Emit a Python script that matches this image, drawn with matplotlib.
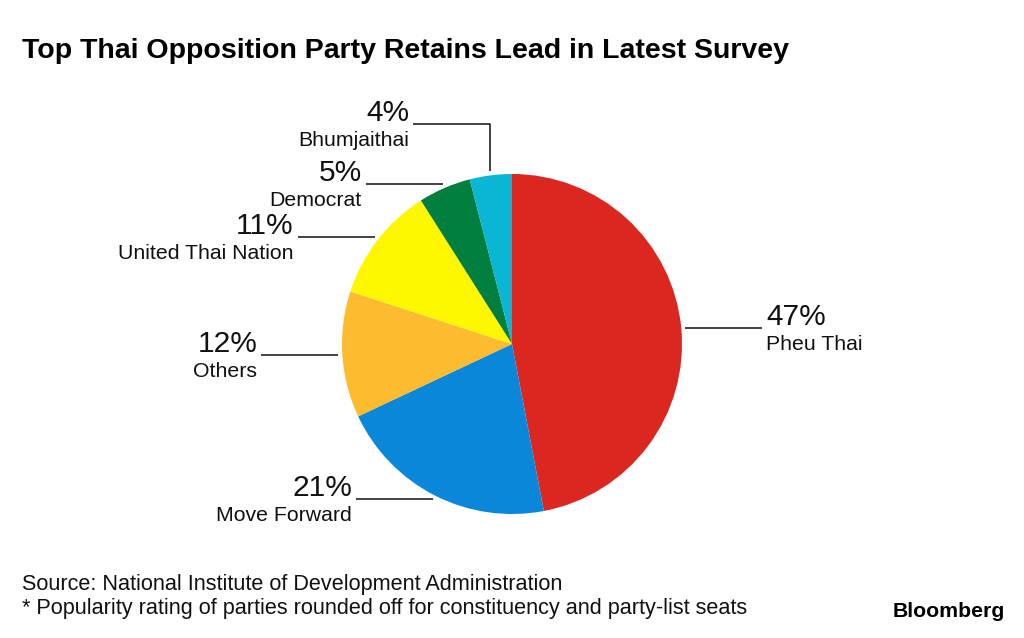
import matplotlib.pyplot as plt
import numpy as np

plt.rcParams['font.family'] = ['Liberation Sans', 'DejaVu Sans']

# data (clockwise from 12 o'clock)
parties = ["Pheu Thai", "Move Forward", "Others", "United Thai Nation", "Democrat", "Bhumjaithai"]
shares = [47, 21, 12, 11, 5, 4]
colors = ["#dc2620", "#0a87d9", "#fdbb30", "#fff700", "#007f3f", "#0ab6d4"]

W, H = 1024, 638
fig = plt.figure(figsize=(W / 100, H / 100), dpi=100)
ax = fig.add_axes([0, 0, 1, 1])
ax.set_xlim(0, W)
ax.set_ylim(0, H)
ax.set_aspect('equal')
ax.axis('off')

# pie geometry in pixel units (y measured from the top, flipped below)
cx, cy, r = 512, 344, 170
ax.pie(shares, colors=colors, center=(cx, H - cy), radius=r,
       startangle=90, counterclock=False,
       wedgeprops=dict(linewidth=0))
ax.set_xlim(0, W)
ax.set_ylim(0, H)

line_color = "#222222"
seg = 77
r_out = r + 4
cum = np.cumsum([0] + shares[:-1])
for name, s, c0 in zip(parties, shares, cum):
    ang = np.deg2rad(90 - (c0 + s / 2) / 100 * 360)
    px = cx + r_out * np.cos(ang)
    py = cy - r_out * np.sin(ang)
    if name == "Bhumjaithai":
        # elbow: up then left
        ly = 124
        xs = [px, px, px - seg]
        ys = [py, ly, ly]
        x_end = px - seg
    else:
        ly = py
        if np.cos(ang) > 0:
            xs = [px, px + seg]
            x_end = px + seg
        else:
            xs = [px, px - seg]
            x_end = px - seg
        ys = [ly, ly]
    ax.plot(xs, [H - y for y in ys], color=line_color, linewidth=1.2,
            solid_capstyle='butt')
    if x_end > px:
        tx, ha = x_end + 4, 'left'
    else:
        tx, ha = x_end - 4, 'right'
    ax.text(tx, H - (ly - 3), f"{s}%", fontsize=21.5, ha=ha, va='baseline',
            color="#111111")
    ax.text(tx, H - (ly + 22), name, fontsize=15.3, ha=ha, va='baseline',
            color="#111111")

fig.text(22 / W, 1 - 58 / H, "Top Thai Opposition Party Retains Lead in Latest Survey",
         fontsize=20.5, fontweight='bold', ha='left', va='baseline', color="#000000")
fig.text(22 / W, 1 - 590 / H, "Source: National Institute of Development Administration",
         fontsize=15.6, ha='left', va='baseline', color="#111111")
fig.text(22 / W, 1 - 614 / H,
         "* Popularity rating of parties rounded off for constituency and party-list seats",
         fontsize=15.6, ha='left', va='baseline', color="#111111")
fig.text(1005 / W, 1 - 617 / H, "Bloomberg", fontsize=15.3, fontweight='bold',
         ha='right', va='baseline', color="#000000")

fig.savefig("out.png", dpi=100)
